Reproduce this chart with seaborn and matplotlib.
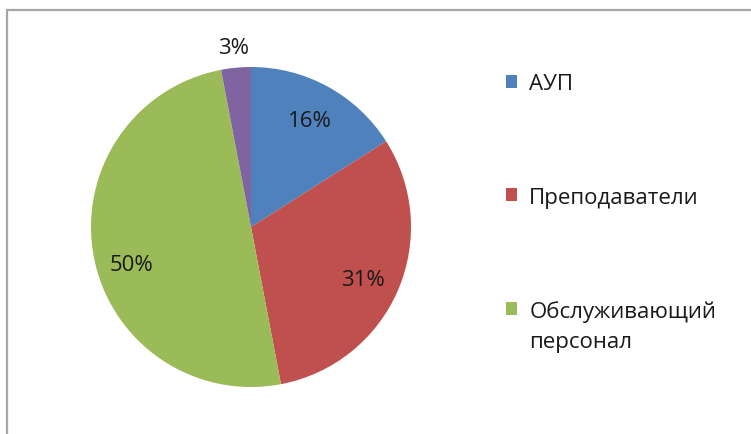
import matplotlib
matplotlib.use("Agg")
import matplotlib.pyplot as plt
import seaborn as sns
import numpy as np
from matplotlib.patches import Patch, Rectangle

categories = ["АУП", "Преподаватели", "Обслуживающий персонал", "Прочие"]
values = [16, 31, 50, 3]
legend_labels = ["АУП", "Преподаватели", "Обслуживающий"]
legend_extra = "персонал"

sns.set_theme(style="white")
plt.rcParams['font.family'] = ['Open Sans', 'DejaVu Sans']

colors = ["#4F81BD", "#C0504D", "#9BBB59", "#8064A2"]
text_color = "#1a1a1a"

W, H = 751, 435
fig = plt.figure(figsize=(W / 100, H / 100), dpi=100)
fig.patch.set_facecolor("white")

cx, cy, r = 251, 228, 160
ax = fig.add_axes([(cx - r) / W, (H - cy - r) / H, 2 * r / W, 2 * r / H])

wedges, texts, autotexts = ax.pie(
    values, colors=colors, startangle=90, counterclock=False,
    autopct=lambda p: f"{p:.0f}%", pctdistance=0.76,
    textprops=dict(fontsize=16, color=text_color),
    wedgeprops=dict(linewidth=0),
)
ax.set_xlim(-1, 1)
ax.set_ylim(-1, 1)
ax.set_aspect("equal")

# label placement tweaks (Excel "best fit" style)
x, y = autotexts[3].get_position()
s = 1.13 / 0.76
autotexts[3].set_position((x * s, y * s))
x, y = autotexts[2].get_position()
autotexts[2].set_position((x, y - 0.094))
x, y = autotexts[1].get_position()
autotexts[1].set_position((x, y - 0.025))

# frame around the chart (only left and top edges visible)
fig.patches.append(Rectangle((7 / W, -0.1), 1.2, (H - 11) / H + 0.1,
                             transform=fig.transFigure, fill=False,
                             edgecolor="#a6a6a6", linewidth=1.6))

handles = [Patch(facecolor=c, edgecolor="none") for c in colors[:3]]
leg = fig.legend(handles, legend_labels, loc="center left",
                 bbox_to_anchor=(486 / W, 1 - 198.5 / H),
                 frameon=False, fontsize=16, labelspacing=4.15,
                 handlelength=0.5, handleheight=0.5, handletextpad=0.55)
for t in leg.get_texts():
    t.set_color(text_color)

fig.canvas.draw()
bb = leg.get_texts()[2].get_window_extent()
fig.text(bb.x0 / W, (bb.y0 - 30) / H, legend_extra, fontsize=16,
         color=text_color, ha="left", va="bottom")

fig.savefig("out.png", dpi=100)
